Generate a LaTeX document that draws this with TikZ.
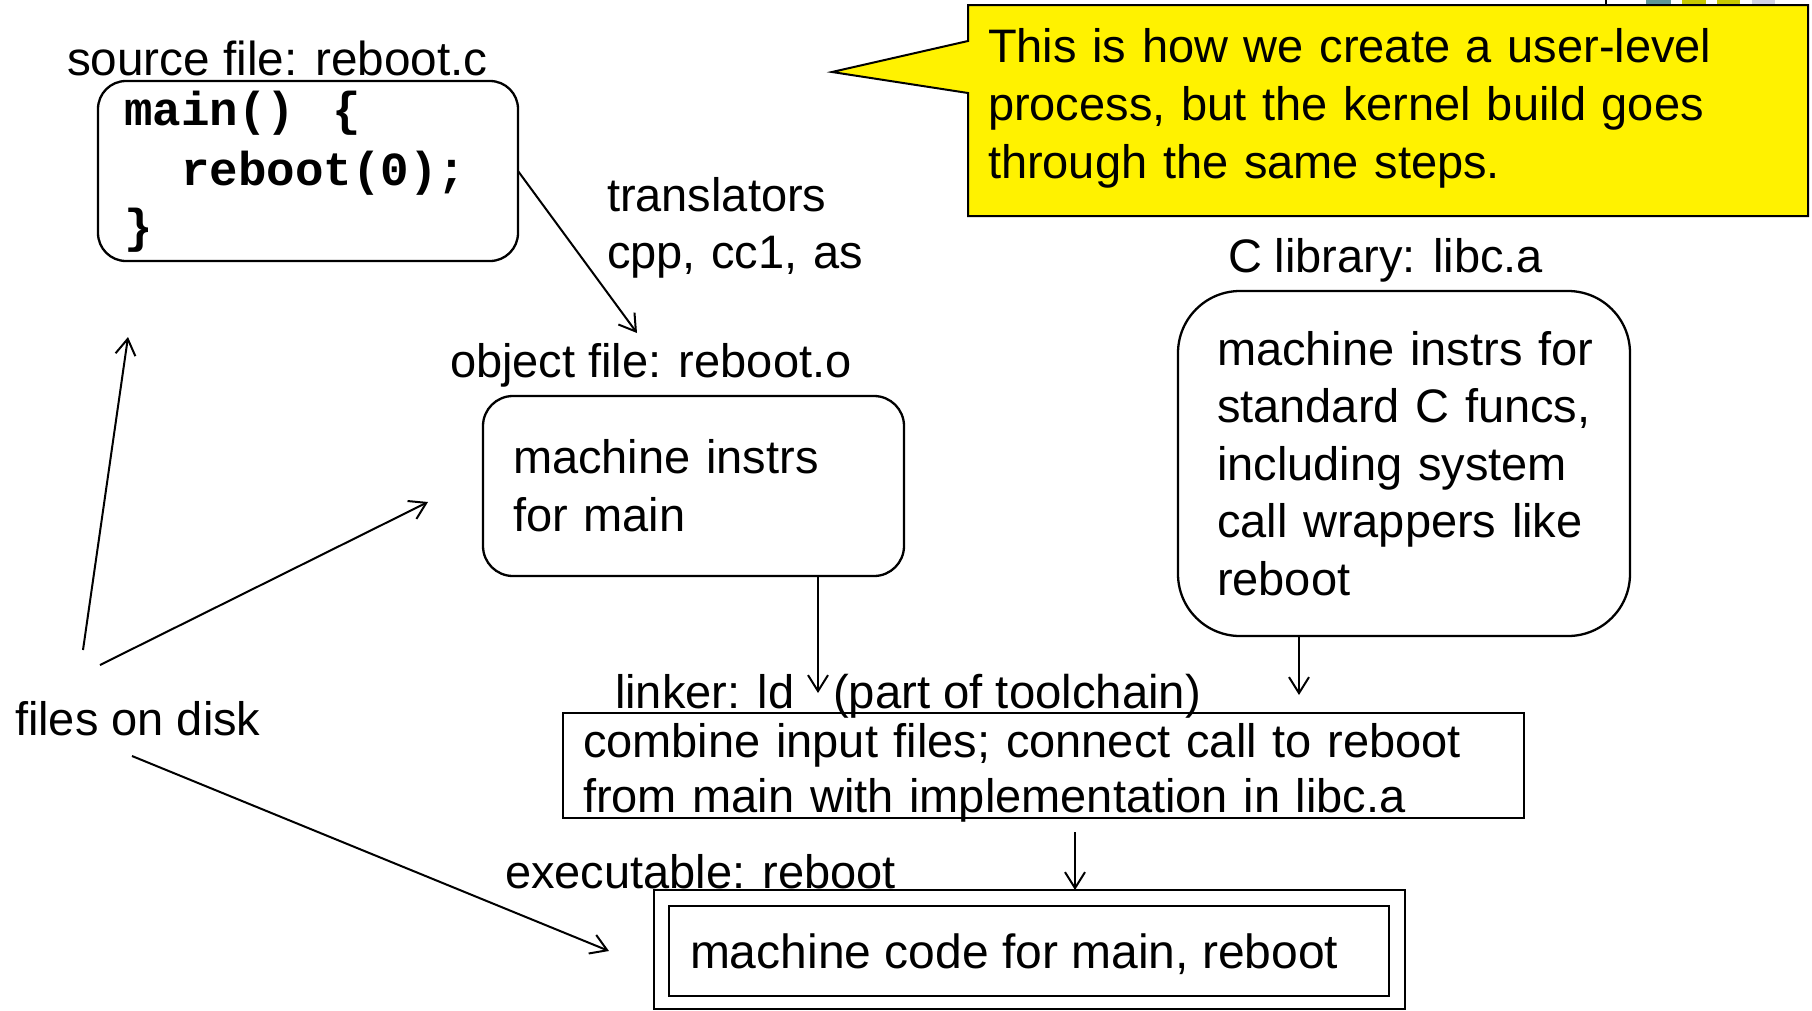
\documentclass[tikz,border=0pt]{standalone}
\usepackage{fontspec}
\setmainfont{Liberation Sans}
\setmonofont{Liberation Mono}
\usetikzlibrary{arrows.meta}
\newcommand\myfs[1]{\fontsize{47}{#1}\selectfont}
\begin{document}
\begin{tikzpicture}[x=1pt,y=-1pt,
  every node/.style={inner sep=0pt, outer sep=0pt},
  lbl/.style={anchor=base west, font=\myfs{58}},
  para/.style={anchor=base west, align=left, text width=#1},
  rbox/.style={draw, line width=2.3pt, rounded corners=#1},
  sbox/.style={draw, line width=2pt},
  conn/.style={line width=2pt, -{Straight Barb[length=16pt,width=20pt]}},
]
\fill[white] (0,0) rectangle (1812,1010);
\useasboundingbox (0,0) rectangle (1812,1010);

% slide fragment, top right
\definecolor{fragteal}{RGB}{95,150,150}
\definecolor{fragolive}{RGB}{200,200,0}
\definecolor{fraglav}{RGB}{210,210,230}
\draw[line width=1.5pt] (1606,0) -- (1606,5);
\fill[fragteal] (1646,0) rectangle (1671,4);
\fill[fragolive] (1682,0) rectangle (1706,4);
\fill[fragolive] (1717,0) rectangle (1740,4);
\fill[fraglav] (1752,0) rectangle (1775,4);

% callout
\path[draw, fill=yellow, line width=2pt] (968,5) -- (1808,5) -- (1808,216) -- (968,216)
  -- (968,93) -- (832,72) -- (968,41) -- cycle;
\node[para=830pt, font=\myfs{58}] (note) at (988,62)
  {This is how we create a user-level\\process, but the kernel build goes\\through the same steps.};

% boxes
\node[rbox=28pt, minimum width=420pt, minimum height=180pt] (src) at (308,171) {};
\node[rbox=30pt, minimum width=421pt, minimum height=180pt] (obj) at (693.5,486) {};
\node[rbox=62pt, minimum width=452pt, minimum height=345pt] (lib) at (1404,463.5) {};
\node[sbox, minimum width=961pt, minimum height=105pt] (link) at (1043.5,765.5) {};
\node[sbox, minimum width=751pt, minimum height=119pt] (exeo) at (1029.5,949.5) {};
\node[sbox, line width=2.5pt, minimum width=720pt, minimum height=90pt] (exei) at (1029,951) {};

% texts
\node[lbl, font=\fontsize{47.7}{58}\selectfont] (srclbl) at (67,75) {source file: reboot.c};
\node[para=400pt, font=\fontsize{47.5}{60}\selectfont\ttfamily\bfseries] (code) at (124,125)
  {main()~\kern22pt\{\\\hphantom{mm}reboot(0);\\[-3pt]\}};
\node[lbl] (objlbl) at (450,377) {object file: reboot.o};
\node[para=300pt, font=\myfs{57}] (transl) at (607,211) {translators\\cpp, cc1, as};
\node[lbl] (liblbl) at (1228,272) {C library: libc.a};
\node[para=420pt, font=\myfs{57.5}] (libtxt) at (1217,365)
  {machine instrs for\\standard C funcs,\\including system\\call wrappers like\\reboot};
\node[para=380pt, font=\myfs{58}] (objtxt) at (513,473) {machine instrs\\for main};
\node[lbl] (lnklbl) at (615,708) {linker: ld};
\node[lbl, font=\fontsize{47.3}{58}\selectfont] (lnkpart) at (833,708) {(part of toolchain)};
\node[para=940pt, font=\myfs{55}] (lnktxt) at (583,757)
  {combine input files; connect call to reboot\\from main with implementation in libc.a};
\node[lbl] (exelbl) at (505,888) {executable: reboot};
\node[lbl, font=\fontsize{48}{58}\selectfont] (exetxt) at (690,968) {machine code for main, reboot};
\node[lbl] (files) at (15,735) {files on disk};

% connectors
\coordinate (tT) at (637,333);
\draw[conn] (src.east) -- (tT);
\coordinate (ox) at (818,693);
\draw[conn] (ox |- obj.south) -- (ox);
\coordinate (lbx) at (1299,695);
\draw[conn] (lbx |- lib.south) -- (lbx);
\coordinate (lx) at (1075,832);
\draw[conn] (lx) -- (lx |- exeo.north);

\coordinate (f1) at (83,650);  \coordinate (t1) at (128,337);
\coordinate (f2) at (100,665); \coordinate (t2) at (428,502);
\coordinate (f3) at (132,756); \coordinate (t3) at (609,951);
\draw[conn] (f1) -- (t1);
\draw[conn] (f2) -- (t2);
\draw[conn] (f3) -- (t3);
\end{tikzpicture}
\end{document}
